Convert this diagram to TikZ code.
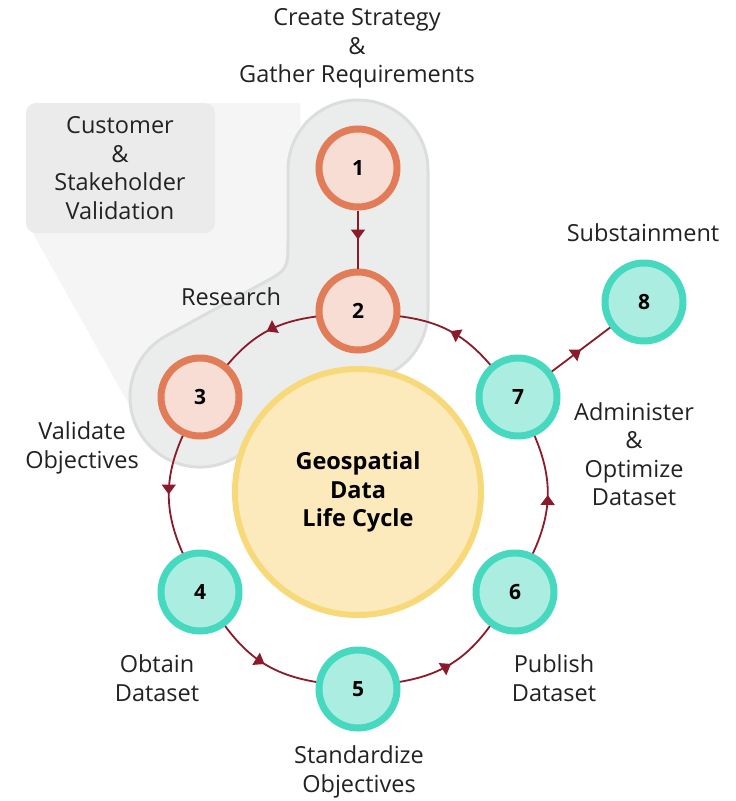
\documentclass[tikz,border=0pt]{standalone}
\usepackage{fontspec}
\setmainfont{Open Sans}
\usetikzlibrary{arrows.meta,decorations.markings}
\definecolor{ob}{HTML}{E27C58}
\definecolor{of}{HTML}{F7DDD3}
\definecolor{tb}{HTML}{47D8C0}
\definecolor{tf}{HTML}{ABEDE0}
\definecolor{yb}{HTML}{F7D97A}
\definecolor{yf}{HTML}{FCEABC}
\definecolor{lk}{HTML}{8B1A2B}
\definecolor{txt}{HTML}{222222}
\definecolor{blobf}{HTML}{EBECEC}
\definecolor{blobd}{HTML}{DCDEDE}
\definecolor{boxf}{HTML}{EBEBEB}
\definecolor{wedge}{HTML}{F5F5F5}
\begin{document}
\begin{tikzpicture}[x=1pt,y=1pt,
  lbl/.style={align=center, font=\fontsize{23.5}{28.5}\selectfont, text=txt, inner sep=0},
  numnode/.style={circle, line width=7pt, minimum size=78pt, inner sep=0pt, text=black, font=\fontsize{21}{24}\selectfont\bfseries},
  orng/.style={numnode, draw=ob, fill=of},
  teal/.style={numnode, draw=tb, fill=tf},
  link/.style={draw=lk, color=lk, line width=1.8pt, postaction={decorate},
    decoration={markings, mark=at position 0.5 with {\arrow{Triangle[length=10pt,width=14pt]}}}},
]
\useasboundingbox[fill=white] (0,0) rectangle (736,-801);
% callout wedge and box
\fill[wedge] (30,-228) -- (132,-410) -- (300,-300) -- (300,-103) -- (210,-103) -- cycle;
\fill[boxf, rounded corners=10pt] (26,-103) rectangle (215,-233);
% blob
\filldraw[fill=blobf, draw=blobd, line width=3pt]
  (288,-170) arc[start angle=180, end angle=0, radius=70]
  -- (428,-311) arc[start angle=0, end angle=-61.4, radius=70]
  -- (233.5,-458.5) arc[start angle=-61.4, end angle=-241.4, radius=70]
  -- (261.9,-283.6) .. controls (288,-269.4) .. (288,-239.7) -- cycle;
% central circle
\node[circle, draw=yb, fill=yf, line width=6pt, minimum size=246pt, inner sep=0pt,
  align=center, text=black, font=\fontsize{23.5}{28.5}\selectfont\bfseries] (big) at (358,-492)
  {Geospatial\\Data\\Life Cycle};
% numbered nodes
\node[orng] (n1) at (358,-168) {1};
\node[orng] (n2) at (358,-311) {2};
\node[orng] (n3) at (200,-397) {3};
\node[teal] (n4) at (200,-592) {4};
\node[teal] (n5) at (358,-689) {5};
\node[teal] (n6) at (515,-592) {6};
\node[teal] (n7) at (518,-397) {7};
\node[teal] (n8) at (644,-302) {8};
% connectors
\draw[link] (n1) -- (n2);
\draw[link] (n2) to[bend right=21] (n3);
\draw[link] (n3) to[bend right=24] (n4);
\draw[link] (n4) to[bend right=22] (n5);
\draw[link] (n5) to[bend right=22] (n6);
\draw[link] (n6) to[bend right=24] (n7);
\draw[link] (n7) to[bend right=21] (n2);
\draw[link] (n7) -- (n8);
% labels
\node[lbl] (tcreate) at (357,-48.5) {Create Strategy\\\&\\Gather Requirements};
\node[lbl] (tcust) at (120,-168) {Customer\\\&\\Stakeholder\\Validation};
\node[lbl] (tres) at (231,-297) {Research};
\node[lbl] (tval) at (82,-448) {Validate\\Objectives};
\node[lbl] (tobt) at (157,-678) {Obtain\\Dataset};
\node[lbl] (tstd) at (359,-772) {Standardize\\Objectives};
\node[lbl] (tpub) at (554,-678) {Publish\\Dataset};
\node[lbl] (tadm) at (634,-454) {Administer\\\&\\Optimize\\Dataset};
\node[lbl] (tsub) at (643,-233) {Substainment};
\end{tikzpicture}
\end{document}
